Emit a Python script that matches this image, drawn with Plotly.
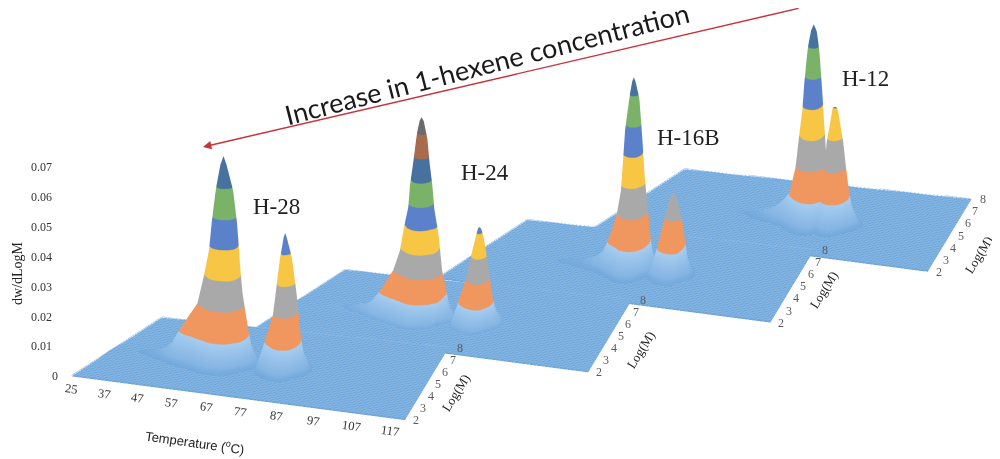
import math
import numpy as np
import plotly.graph_objects as go

# ---------- values ----------
LOG_M = [2, 2.55, 2.95, 3.25, 3.45, 3.65, 3.75, 3.85, 3.95, 4.05, 4.15, 4.25, 4.35, 4.45, 4.55, 4.65, 4.75, 4.85, 4.95, 5.05, 5.15, 5.25, 5.35, 5.45, 5.55, 5.75, 6.05, 6.55, 8]
M_SHAPE = [0, 0.002, 0.008, 0.02, 0.05, 0.1, 0.15, 0.21, 0.31, 0.44, 0.58, 0.72, 0.85, 0.96, 1, 0.96, 0.85, 0.72, 0.58, 0.44, 0.31, 0.21, 0.15, 0.1, 0.06, 0.025, 0.008, 0.002, 0]

T_28 = [27, 33, 39, 43, 45.1, 46.9, 49.6, 52.3, 54.2, 55.8, 56.6, 57.6, 58.7, 59.6, 60.5, 62.1, 63.1, 63.6, 64.2, 65.3, 66.3, 67.9, 69.6, 71.6, 74.1, 75.1, 76.1, 76.9, 77.3, 77.7, 78.9, 80, 80.5, 81.3, 82.9, 84.5, 89, 100, 117]
Z_28 = [0.0005, 0.001, 0.002, 0.0035, 0.006, 0.01, 0.015, 0.02, 0.03, 0.04, 0.05, 0.06, 0.067, 0.07, 0.067, 0.06, 0.05, 0.04, 0.03, 0.02, 0.01, 0.004, 0.002, 0.01, 0.02, 0.03, 0.04, 0.0455, 0.0467, 0.0455, 0.04, 0.03, 0.02, 0.01, 0.004, 0.0015, 0.0004, 0.0001, 0]

T_24 = [27, 35, 43, 47.6, 49.6, 51.9, 55.9, 58, 59.1, 60.4, 60.9, 61.8, 62.6, 63.3, 63.9, 64.5, 65.2, 65.8, 66.6, 67.1, 68.2, 68.5, 69.6, 69.9, 71.6, 73.2, 74.6, 76.7, 78.1, 79.7, 80.1, 80.5, 80.9, 81.3, 82.4, 82.9, 84, 85.4, 87, 91, 100, 117]
Z_24 = [0.0004, 0.001, 0.002, 0.0035, 0.0055, 0.01, 0.02, 0.03, 0.04, 0.05, 0.06, 0.07, 0.08, 0.085, 0.0867, 0.085, 0.08, 0.07, 0.06, 0.05, 0.04, 0.03, 0.02, 0.01, 0.004, 0.0025, 0.01, 0.02, 0.03, 0.04, 0.042, 0.0425, 0.042, 0.04, 0.03, 0.02, 0.01, 0.004, 0.0015, 0.0004, 0.0001, 0]

T_16 = [27, 40, 50, 58, 61.6, 63.6, 65.2, 67.9, 69.3, 69.8, 70.3, 71.4, 72, 72.5, 73, 73.8, 74.4, 74.8, 75.5, 75.9, 76.5, 77.6, 79.4, 81.4, 82.9, 83.8, 84.7, 86, 86.5, 87.9, 89.5, 93, 105, 117]
Z_16 = [0.0003, 0.0007, 0.0013, 0.0025, 0.004, 0.006, 0.01, 0.02, 0.03, 0.04, 0.05, 0.06, 0.064, 0.0655, 0.064, 0.06, 0.05, 0.04, 0.03, 0.02, 0.01, 0.0035, 0.01, 0.02, 0.027, 0.0285, 0.027, 0.02, 0.01, 0.004, 0.0015, 0.0004, 0.0001, 0]

T_12 = [27, 40, 50, 60, 64.7, 67.7, 69.7, 72.2, 74.1, 75, 76, 76.6, 77.4, 78.2, 79, 79.8, 80.3, 80.9, 81.3, 81.7, 82.4, 83, 84.4, 84.8, 85.2, 85.7, 87.1, 87.9, 88.8, 90.5, 92.5, 96, 105, 117]
Z_12 = [0.0003, 0.0005, 0.0009, 0.0015, 0.003, 0.0045, 0.0065, 0.01, 0.02, 0.03, 0.04, 0.05, 0.06, 0.065, 0.0672, 0.065, 0.06, 0.05, 0.04, 0.03, 0.022, 0.03, 0.04, 0.0403, 0.0405, 0.04, 0.03, 0.02, 0.01, 0.004, 0.0015, 0.0005, 0.0001, 0]

SAMPLES = ["H-12", "H-16B", "H-24", "H-28"]
Z_TOPS = [0.08, 0.08, 0.1025, 0.08]
T_TICK_LABELS = ["25", "37", "47", "57", "67", "77", "87", "97", "107", "117"]
T_TICK_POS = [27.05, 36, 44.8, 54, 63.5, 72.6, 82.3, 92.3, 102.5, 113]
Z_TICKS = [0, 0.01, 0.02, 0.03, 0.04, 0.05, 0.06, 0.07]
M_TICKS = [2, 3, 4, 5, 6, 7, 8]
PLANE_BLUE = "#6FA6DA"
BAND_COLORS = [PLANE_BLUE, "#F0965F", "#A9A9A9", "#F7C644", "#5A81C9", "#7AB368", "#47719E", "#A96B4C", "#6C6C6C", "#6C6C6C", "#6C6C6C"]
SLOPE_BLUES = ["#86B6E4", "#A8CDF0"]
MESH_COLOR = "#8DBBE6"
FLOOR_LEVEL = 0.0003

# ---------- geometry (pixels) ----------
PAGE_MARGIN = 8         # the page's own margin moves everything by this much
X_EDGE = (335, 44)      # temperature edge of the floor
Y_EDGE = (91, -59)      # log(M) edge of the floor
FRONT_LEFT = (72, 379)
OFFSETS = [(525, -149), (367, -98), (184, -48), (0, 0)]
NUDGE = (-10.5, -10)
TAPER_X, TAPER_Y = 0.170, 0.110   # back of the floor narrows as in the original's perspective
SCALE = 230.5                     # scene unit -> pixels
DIST = 2.0


def floor(t, m):
    t, m = np.asarray(t, float), np.asarray(m, float)
    return 27 + (t - 27) * (1 - TAPER_X * (m - 2) / 6), 2 + (m - 2) * (1 + TAPER_Y * (t - 27) / 90)


# orthographic camera solved from the two floor edges
sin_el = np.sqrt(X_EDGE[1] / X_EDGE[0] * (-Y_EDGE[1]) / Y_EDGE[0])
ratio = X_EDGE[1] / X_EDGE[0] / sin_el
r1 = 1 / np.sqrt(1 + ratio ** 2)
r2 = ratio * r1
cos_el = np.sqrt(1 - sin_el ** 2)
right = np.array([r1, r2, 0])
eye_dir = np.array([r2 * cos_el, -r1 * cos_el, sin_el])
up_vec = np.array([-sin_el * r2, sin_el * r1, cos_el])
kx = X_EDGE[0] / r1
ky = Y_EDGE[0] / r2
y_span = 1 + TAPER_Y
ASPECT = dict(x=kx / SCALE, y=ky * y_span / SCALE, z=240 / cos_el / SCALE)


def scene_layout(i):
    top = Z_TOPS[i]
    px = FRONT_LEFT[0] + 0.5 * X_EDGE[0] + 0.5 * y_span * Y_EDGE[0] + OFFSETS[i][0] + NUDGE[0]
    py = FRONT_LEFT[1] + 0.5 * X_EDGE[1] + 0.5 * y_span * Y_EDGE[1] - 120 + OFFSETS[i][1] + NUDGE[1]
    dx, dy = px - 500, py - 229.5
    c = (-dx / SCALE) * right + (dy / SCALE) * up_vec
    e = c + DIST * eye_dir
    hidden = dict(visible=False)
    x_m, y_m = floor([117] * len(M_TICKS), M_TICKS)
    ann = [dict(x=float(a), y=float(b), z=0, text=str(v), showarrow=False, xshift=11,
                font=dict(family="Liberation Serif", size=12, color="#5b5b5b"))
           for a, b, v in zip(x_m, y_m, M_TICKS)]
    if i == 3:
        x_t, y_t = floor(T_TICK_POS, [2] * len(T_TICK_POS))
        ann += [dict(x=float(a), y=float(b), z=0, text=v, showarrow=False, yshift=-13, textangle=8,
                     font=dict(family="Liberation Serif", size=12.5, color="#333333"))
                for a, b, v in zip(x_t, y_t, T_TICK_LABELS)]
        ann += [dict(x=27.05, y=2.01, z=v, text=str(v), showarrow=False, xshift=-17 if v == 0 else -30,
                     font=dict(family="Liberation Serif", size=12, color="#333333"))
                for v in Z_TICKS]
    return dict(domain=dict(x=[0, 1], y=[0, 1]),
                xaxis=dict(range=[27, 117], **hidden), yaxis=dict(range=[2, 2 + 6 * y_span], **hidden), zaxis=dict(range=[0, top], **hidden),
                aspectmode="manual", aspectratio=ASPECT, annotations=ann,
                camera=dict(projection=dict(type="orthographic"),
                            eye=dict(x=float(e[0]), y=float(e[1]), z=float(e[2])),
                            center=dict(x=float(c[0]), y=float(c[1]), z=float(c[2])), up=dict(x=0, y=0, z=1)))


fig = go.Figure()
for i, (temps, prof) in enumerate([(T_12, Z_12), (T_16, Z_16), (T_24, Z_24), (T_28, Z_28)]):
    top = Z_TOPS[i]
    scene_id = "scene" if i == 0 else f"scene{i + 1}"
    tt, mm = np.meshgrid(temps, LOG_M)
    xx, yy = floor(tt, mm)
    zz = np.outer(M_SHAPE, prof)
    n = math.ceil(top / 0.01)
    edge = [min(1, b * 0.01 / top) for b in range(n + 1)]
    scale = [[0, PLANE_BLUE], [0.001 / top, PLANE_BLUE], [0.003 / top, SLOPE_BLUES[0]], [edge[1], SLOPE_BLUES[1]]]
    for b in range(1, n):
        scale += [[edge[b], BAND_COLORS[b]], [edge[b + 1], BAND_COLORS[b]]]
    fig.add_trace(go.Surface(x=xx, y=yy, z=zz, surfacecolor=zz, cmin=0, cmax=top, colorscale=scale, showscale=False,
                             scene=scene_id,
                             lighting=dict(ambient=1, diffuse=0.08, specular=0, roughness=1, fresnel=0),
                             hoverinfo="skip"))
    # the fine grid of the flat floor
    fx, fy = floor(*np.meshgrid([27, 117], [2, 8]))
    fig.add_trace(go.Surface(x=fx, y=fy, z=[[FLOOR_LEVEL, FLOOR_LEVEL], [FLOOR_LEVEL, FLOOR_LEVEL]], hidesurface=True, showscale=False,
                             scene=scene_id, hoverinfo="skip",
                             contours=dict(x=dict(show=True, start=27, end=117, size=1, color=MESH_COLOR, width=1),
                                           y=dict(show=True, start=2, end=9, size=0.15, color=MESH_COLOR, width=1))))

layout = dict(width=1000, height=459, margin=dict(l=0, r=0, t=0, b=0), paper_bgcolor="white", showlegend=False)
for i in range(4):
    layout["scene" if i == 0 else f"scene{i + 1}"] = scene_layout(i)
fig.update_layout(**layout)


def paper(x, y):
    return (x - PAGE_MARGIN) / 1000, 1 - (y - PAGE_MARGIN) / 459


def note(text, x, y, size, family, angle=0, color="#222222"):
    px, py = paper(x, y)
    fig.add_annotation(x=px, y=py, xref="paper", yref="paper", text=text, showarrow=False,
                       xanchor="center", yanchor="middle",
                       textangle=angle, font=dict(family=family, size=size, color=color))


SERIF, SANS = "Liberation Serif", "Liberation Sans"
for name, x, y in zip(["H-28", "H-24", "H-16B", "H-12"], [276, 485, 688, 865], [206, 172, 137, 78]):
    note(name, x, y, 23, SERIF)
for x, y in zip([455, 640, 823, 978], [393, 350, 290, 255]):
    note("Log(M)", x, y, 13, SERIF, -58)
note("dw/dLogM", 17, 273, 14, SERIF, -90)
note("Temperature (<sup>o</sup>C)", 195, 442, 13, SANS, 8)
note("Increase in 1-hexene concentration", 487, 64, 27, "Lato", -14.4, "#1a1a1a")
head_x, head_y = paper(203, 147)
fig.add_annotation(x=head_x, y=head_y, xref="paper", yref="paper", ax=597, ay=-142, xanchor="center", yanchor="middle",
                   showarrow=True, arrowhead=2, arrowsize=1.2, arrowwidth=1.4, arrowcolor="#C8323A", text="")
fig.write_html("out.html")
